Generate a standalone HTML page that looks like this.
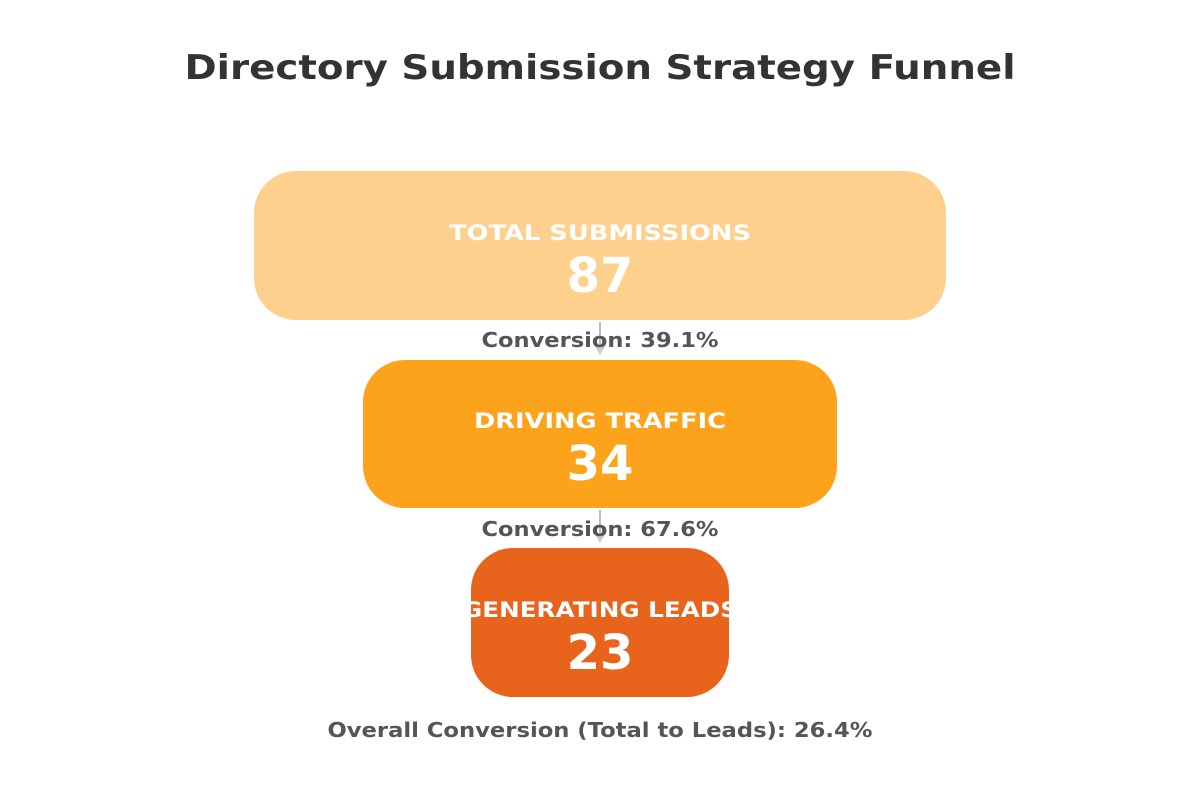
<!DOCTYPE html>
<html><head><meta charset="utf-8"><style>
html,body{margin:0;padding:0;background:#fff;}
svg{display:block;font-family:"DejaVu Sans","Liberation Sans",sans-serif;font-weight:bold;}
</style></head><body>
<svg width="1200" height="800" viewBox="0 0 1200 800">
<rect width="1200" height="800" fill="#fff"/>
<text x="600" y="79" text-anchor="middle" font-size="34" fill="#333" textLength="831" lengthAdjust="spacingAndGlyphs">Directory Submission Strategy Funnel</text>

<rect x="254" y="171" width="692" height="149" rx="42" fill="#FED08E"/>
<text x="600" y="240" text-anchor="middle" font-size="21" fill="#fff" textLength="302" lengthAdjust="spacingAndGlyphs">TOTAL SUBMISSIONS</text>
<text x="600" y="292" text-anchor="middle" font-size="48" fill="#fff">87</text>

<rect x="363" y="360" width="474" height="148" rx="42" fill="#FDA31B"/>
<text x="600" y="428" text-anchor="middle" font-size="21" fill="#fff" textLength="252" lengthAdjust="spacingAndGlyphs">DRIVING TRAFFIC</text>
<text x="600" y="480" text-anchor="middle" font-size="48" fill="#fff">34</text>

<rect x="471" y="548" width="258" height="149" rx="42" fill="#E8631C"/>
<text x="600" y="617" text-anchor="middle" font-size="21" fill="#fff" textLength="276" lengthAdjust="spacingAndGlyphs">GENERATING LEADS</text>
<text x="600" y="669" text-anchor="middle" font-size="48" fill="#fff">23</text>

<g stroke="#bbb" stroke-width="2" fill="#ccc">
<line x1="600" y1="322" x2="600" y2="348"/>
<path d="M594,345 L606,345 L600,355 Z" stroke="none"/>
<line x1="600" y1="510" x2="600" y2="536"/>
<path d="M594,533 L606,533 L600,543 Z" stroke="none"/>
</g>
<text x="600" y="347" text-anchor="middle" font-size="20" fill="#555" textLength="237" lengthAdjust="spacingAndGlyphs">Conversion: 39.1%</text>
<text x="600" y="536" text-anchor="middle" font-size="20" fill="#555" textLength="237" lengthAdjust="spacingAndGlyphs">Conversion: 67.6%</text>
<text x="600" y="737" text-anchor="middle" font-size="20" fill="#555" textLength="545" lengthAdjust="spacingAndGlyphs">Overall Conversion (Total to Leads): 26.4%</text>
</svg>
</body></html>
